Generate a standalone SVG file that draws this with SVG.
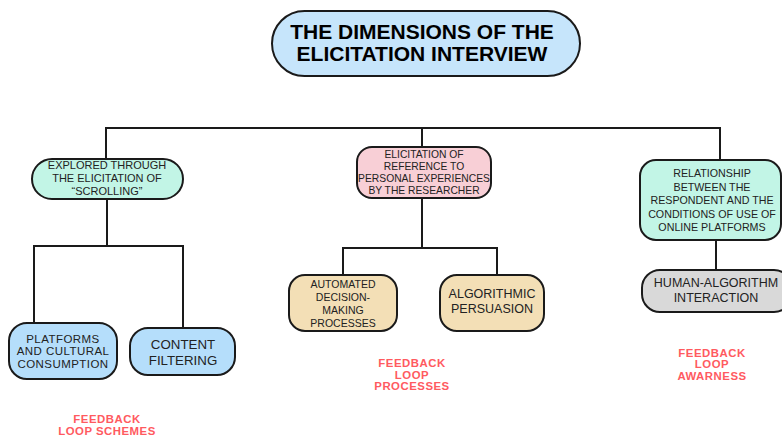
<svg xmlns="http://www.w3.org/2000/svg" width="782" height="436" viewBox="0 0 782 436">
<style>
.node{stroke:#1a1a1a;stroke-width:2}
.t{font-family:"Liberation Sans",Arial,sans-serif;fill:#222;text-anchor:middle}
.title{font-family:"Liberation Sans",Arial,sans-serif;font-weight:bold;fill:#000;text-anchor:middle;font-size:21px}
.red{font-family:"Liberation Sans",Arial,sans-serif;font-weight:bold;fill:#ff5a5f;text-anchor:middle;font-size:11.4px;letter-spacing:0.5px}
.conn{fill:none;stroke:#1a1a1a;stroke-width:2}
.mint{fill:#c2f5e6}
.blue{fill:#b5defb}
.tan{fill:#f3dfb6}
</style>
<rect width="782" height="436" fill="#fff"/>
<g id="connectors">
<path class="conn" d="M106,159 V128 H720 V160"/>
<path class="conn" d="M422,128 V147"/>
<path class="conn" d="M107,199 V246 M34,323 V246 H183 V328"/>
<path class="conn" d="M422,198 V248 M343,276 V248 H497 V276"/>
<path class="conn" d="M716,240 V270"/>
</g>
<g id="title">
<rect class="node" x="272" y="11" width="308" height="65" rx="32.5" fill="#c6e5fb"/>
<text class="title" x="422" y="39">THE DIMENSIONS OF THE</text>
<text class="title" x="422" y="61">ELICITATION INTERVIEW</text>
</g>
<g id="n-scrolling">
<rect class="node mint" x="32" y="159" width="151" height="40" rx="20"/>
<text class="t" font-size="11" x="107" y="169">EXPLORED THROUGH</text>
<text class="t" font-size="11" x="107" y="182">THE ELICITATION OF</text>
<text class="t" font-size="11" x="107" y="195">“SCROLLING”</text>
</g>
<g id="n-reference">
<rect class="node" x="357" y="147" width="134" height="51" rx="15" fill="#f8cfd6"/>
<text class="t" font-size="10.3" x="424" y="157.5">ELICITATION OF</text>
<text class="t" font-size="10.3" x="424" y="169.5">REFERENCE TO</text>
<text class="t" font-size="10.3" x="424" y="181.5">PERSONAL EXPERIENCES</text>
<text class="t" font-size="10.3" x="424" y="193.5">BY THE RESEARCHER</text>
</g>
<g id="n-relationship">
<rect class="node mint" x="640" y="160" width="141" height="80" rx="16"/>
<text class="t" font-size="10.7" x="712" y="177">RELATIONSHIP</text>
<text class="t" font-size="10.7" x="712" y="190.5">BETWEEN THE</text>
<text class="t" font-size="10.7" x="712" y="204">RESPONDENT AND THE</text>
<text class="t" font-size="10.7" x="712" y="217.5">CONDITIONS OF USE OF</text>
<text class="t" font-size="10.7" x="712" y="231">ONLINE PLATFORMS</text>
</g>
<g id="n-platforms">
<rect class="node blue" x="9" y="323" width="108" height="56" rx="18"/>
<text class="t" font-size="11.5" letter-spacing="0.45" x="63" y="342.5">PLATFORMS</text>
<text class="t" font-size="11.5" letter-spacing="0.45" x="63" y="355">AND CULTURAL</text>
<text class="t" font-size="11.5" letter-spacing="0.45" x="63" y="367.5">CONSUMPTION</text>
</g>
<g id="n-content">
<rect class="node blue" x="130" y="328" width="105" height="47" rx="18"/>
<text class="t" font-size="13.3" x="183" y="349">CONTENT</text>
<text class="t" font-size="13.3" x="183" y="365">FILTERING</text>
</g>
<g id="n-automated">
<rect class="node tan" x="289" y="275" width="108" height="56" rx="16"/>
<text class="t" font-size="10.5" x="343" y="288">AUTOMATED</text>
<text class="t" font-size="10.5" x="343" y="301">DECISION-</text>
<text class="t" font-size="10.5" x="343" y="314">MAKING</text>
<text class="t" font-size="10.5" x="343" y="327">PROCESSES</text>
</g>
<g id="n-persuasion">
<rect class="node tan" x="440" y="275" width="104" height="56" rx="17"/>
<text class="t" font-size="12.5" x="492" y="297.5">ALGORITHMIC</text>
<text class="t" font-size="12.5" x="492" y="312.5">PERSUASION</text>
</g>
<g id="n-human">
<rect class="node" x="642" y="270" width="150" height="42" rx="18" fill="#d9d9d9"/>
<text class="t" font-size="12.5" x="716" y="286.5">HUMAN-ALGORITHM</text>
<text class="t" font-size="12.5" x="716" y="301.5">INTERACTION</text>
</g>
<g id="labels">
<text class="red" x="107" y="422.5">FEEDBACK</text>
<text class="red" x="107" y="434.5">LOOP SCHEMES</text>
<text class="red" x="412" y="367">FEEDBACK</text>
<text class="red" x="412" y="378.5">LOOP</text>
<text class="red" x="412" y="390">PROCESSES</text>
<text class="red" x="712" y="356.5">FEEDBACK</text>
<text class="red" x="712" y="368">LOOP</text>
<text class="red" x="712" y="379.5">AWARNESS</text>
</g>
</svg>
